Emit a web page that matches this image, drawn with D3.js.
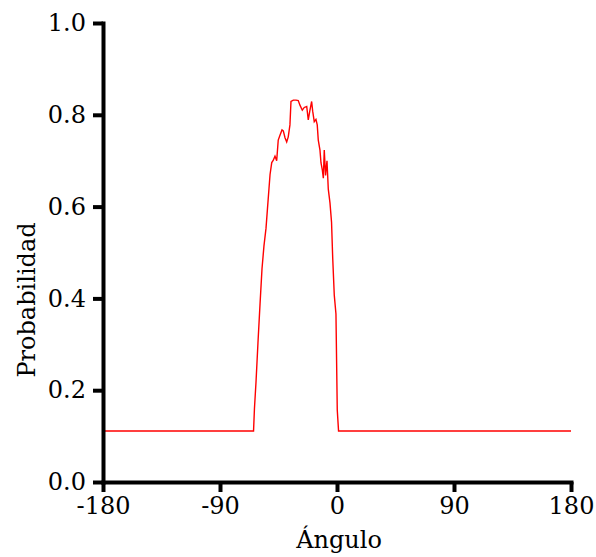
<!DOCTYPE html>
<html>
<head>
<meta charset="utf-8">
<script src="https://cdn.jsdelivr.net/npm/d3@7"></script>
<style>
  body { margin: 0; background: #fff; }
  svg { display: block; }
  text { font-family: "DejaVu Serif", serif; fill: #000; }
</style>
</head>
<body>
<svg id="chart" width="596" height="557"></svg>
<script>
const angles = [-180, -64.2, -63.5, -62.3, -60.8, -59.2, -57.7, -56.2, -54.6, -53.5, -52.3, -51.5, -50.2, -49.2,
  -47.7, -46.4, -45.2, -43.8, -42.3, -41.3, -40, -38.7, -37.5, -36.2, -35.4, -33.6, -31.5, -29.8, -28.5,
  -26.7, -25.2, -23.3, -22.1, -20.8, -19.5, -18.7, -17.5, -16.2, -15.2, -14.4, -13.1, -12.3, -11.3, -10.5,
  -9.8, -8.8, -7.7, -6.7, -5.4, -4.2, -3.3, -2.1, -0.8, 0.2, 1.2, 180];
const probs = [0.111, 0.111, 0.16, 0.218, 0.303, 0.388, 0.464, 0.514, 0.553, 0.595, 0.64, 0.67, 0.696, 0.70,
  0.71, 0.70, 0.745, 0.756, 0.767, 0.765, 0.75, 0.741, 0.752, 0.778, 0.829, 0.832, 0.832, 0.831, 0.821,
  0.81, 0.816, 0.818, 0.789, 0.81, 0.829, 0.808, 0.785, 0.79, 0.778, 0.745, 0.723, 0.695, 0.68, 0.662,
  0.723, 0.668, 0.70, 0.638, 0.608, 0.566, 0.488, 0.407, 0.366, 0.157, 0.111, 0.111];
const xTicks = [-180, -90, 0, 90, 180];
const yTicks = [0, 0.2, 0.4, 0.6, 0.8, 1.0];
const xLabel = "Ángulo";
const yLabel = "Probabilidad";

const svg = d3.select("#chart");
const x = d3.scaleLinear().domain([-180, 180]).range([103, 571]);
const y = d3.scaleLinear().domain([0, 1]).range([482, 23]);

const data = angles.map((a, i) => ({a, p: probs[i]}));

svg.append("path")
  .datum(data)
  .attr("fill", "none")
  .attr("stroke", "#ff0000")
  .attr("stroke-width", 1.4)
  .attr("d", d3.line().x(d => x(d.a)).y(d => y(d.p)));

const hyphenFmt = d => String(d);

const xAxis = svg.append("g")
  .attr("transform", "translate(0,482)")
  .call(d3.axisBottom(x).tickValues(xTicks).tickFormat(hyphenFmt).tickSize(10).tickSizeOuter(0).tickPadding(5));
const yAxis = svg.append("g")
  .attr("transform", "translate(103,0)")
  .call(d3.axisLeft(y).tickValues(yTicks).tickFormat(d => d.toFixed(1)).tickSize(10).tickSizeOuter(0).tickPadding(7));

[xAxis, yAxis].forEach(g => {
  g.select(".domain").attr("stroke", "#000").attr("stroke-width", 4).attr("stroke-linecap", "square");
  g.selectAll(".tick line").attr("stroke", "#000").attr("stroke-width", 4);
  g.selectAll(".tick text").attr("font-size", 24).attr("font-family", "DejaVu Serif, serif").attr("fill", "#000");
});

svg.append("text")
  .attr("x", 339).attr("y", 548)
  .attr("text-anchor", "middle")
  .attr("font-size", 24)
  .text(xLabel);

svg.append("text")
  .attr("transform", "translate(35,300) rotate(-90)")
  .attr("text-anchor", "middle")
  .attr("font-size", 24)
  .text(yLabel);
</script>
</body>
</html>
